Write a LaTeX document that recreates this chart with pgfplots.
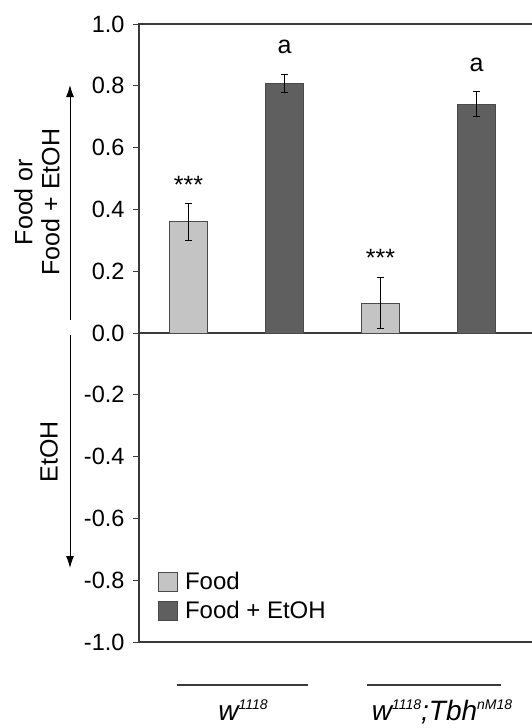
\documentclass[border=0pt]{standalone}
\usepackage{pgfplots}
\pgfplotsset{compat=1.18}
\usepackage{fontspec}
\setmainfont{Liberation Sans}
\usetikzlibrary{arrows.meta}
\definecolor{lightbar}{HTML}{C4C4C4}
\definecolor{darkbar}{HTML}{5F5F5F}
\definecolor{edge}{HTML}{4A4A4A}
\definecolor{axisc}{HTML}{3A3A3A}
\pgfplotsset{boxlegend/.style={legend image code/.code={\draw[##1] (0pt,-9.5pt) rectangle (19pt,9.5pt);}}}
\begin{document}
\begin{tikzpicture}[x=1pt,y=1pt]
\useasboundingbox (0,0) rectangle (531,-728);
\begin{axis}[
  at={(139pt,-642pt)}, anchor=south west,
  scale only axis, width=400pt, height=618pt,
  xmin=-0.516, xmax=3.651, ymin=-1, ymax=1,
  xtick=\empty,
  ytick={-1,-0.8,-0.6,-0.4,-0.2,0,0.2,0.4,0.6,0.8,1},
  yticklabel style={/pgf/number format/fixed, /pgf/number format/fixed zerofill,
    /pgf/number format/precision=1, /pgf/number format/assume math mode=true,
    font=\fontsize{23.5}{25}\selectfont, xshift=-5pt},
  tick align=outside, ytick pos=left, major tick length=6pt,
  tick style={line width=1pt, axisc},
  axis line style={line width=1.2pt, axisc},
  clip=false,
  legend cell align=left,
  legend style={at={(axis cs:-0.318,-0.767)}, anchor=north west, draw=none, fill=none,
    inner sep=0pt, font=\fontsize{24}{27}\selectfont, row sep=6pt, column sep=5pt},
]
\draw[line width=1.2pt, axisc] (rel axis cs:0,0.5) -- (rel axis cs:1,0.5);
\addplot[ybar, bar width=38pt, bar shift=0pt, fill=lightbar, draw=edge, line width=0.8pt,
  boxlegend,
  error bars/.cd, y dir=both, y explicit,
  error bar style={black, line width=1pt},
  error mark options={rotate=90, black, mark size=3.5pt, line width=1pt}]
  coordinates {(0,0.36) +- (0,0.06) (2,0.097) +- (0,0.082)};
\addlegendentry{Food}
\addplot[ybar, bar width=38pt, bar shift=0pt, fill=darkbar, draw=edge, line width=0.8pt,
  boxlegend,
  error bars/.cd, y dir=both, y explicit,
  error bar style={black, line width=1pt},
  error mark options={rotate=90, black, mark size=3.5pt, line width=1pt}]
  coordinates {(1,0.808) +- (0,0.03) (3,0.74) +- (0,0.04)};
\addlegendentry{Food + EtOH}
\node[anchor=base, font=\fontsize{25}{27}\selectfont] at (axis cs:0,0.453) {***};
\node[anchor=base, font=\fontsize{25}{27}\selectfont] at (axis cs:2,0.214) {***};
\node[anchor=base, font=\fontsize{25}{27}\selectfont] at (axis cs:1,0.906) {a};
\node[anchor=base, font=\fontsize{25}{27}\selectfont] at (axis cs:3,0.845) {a};
\end{axis}
% y-axis titles and direction arrows
\node[rotate=90, align=center, font=\fontsize{25}{27}\selectfont] at (37,-202) {Food or\\Food + EtOH};
\node[rotate=90, font=\fontsize{25}{27}\selectfont] at (49,-452) {EtOH};
\draw[line width=1pt, -{Latex[length=12pt,width=8pt]}] (70,-320) -- (70,-85);
\draw[line width=1pt, -{Latex[length=12pt,width=8pt]}] (70,-335) -- (70,-568);
% genotype group lines and labels
\draw[line width=2pt, axisc] (177,-685) -- (308,-685);
\draw[line width=2pt, axisc] (367,-685) -- (501,-685);
\node[anchor=base, font=\fontsize{28}{30}\selectfont\itshape] at (243,-720)
  {w\raisebox{11pt}{\fontsize{14}{16}\selectfont 1118}};
\node[anchor=base, font=\fontsize{28}{30}\selectfont\itshape] at (442,-720)
  {w\raisebox{11pt}{\fontsize{14}{16}\selectfont 1118};Tbh\raisebox{11pt}{\fontsize{14}{16}\selectfont nM18}};
\end{tikzpicture}
\end{document}
